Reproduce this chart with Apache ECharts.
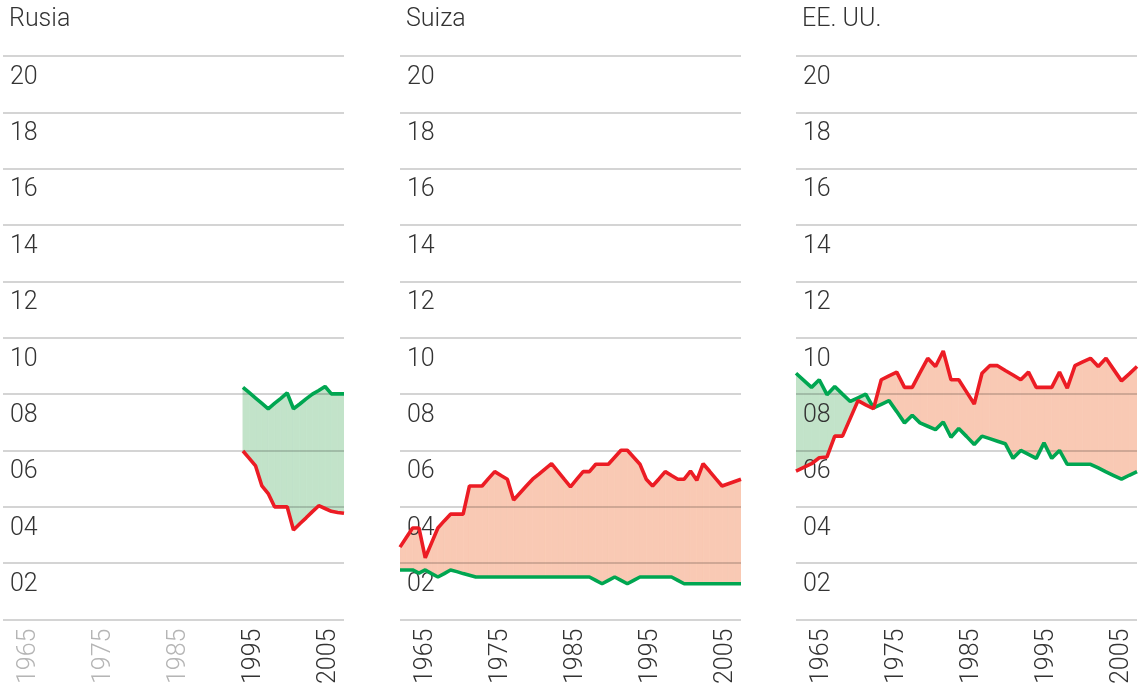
<!DOCTYPE html>
<html><head><meta charset="utf-8">
<script src="https://cdn.jsdelivr.net/npm/echarts@6/dist/echarts.min.js"></script>
<style>html,body{margin:0;padding:0;background:#fff}#c{width:1145px;height:687px}</style>
</head><body><div id="c"></div>
<script>
// ---------- data ----------
const panelTitles = ['Rusia', 'Suiza', 'EE. UU.'];
const yearTicks = [1965, 1975, 1985, 1995, 2005];
const yearMin = 1961.6, yearMax = 2007.07;

// sample positions used by the Russia / Switzerland series (55 evenly spaced samples)
const samples = ['1','2','3','4','5','6','7','8','9','10','11','12','13','14','15','16','17','18','19','20',
  '21','22','23','24','25','26','27','28','29','30','31','32','33','34','35','36','37','38','39','40',
  '41','42','43','44','45','46','47','48','49','50','51','52','53','54','55'];
// sample positions used by the US series (45 evenly spaced samples)
const usSamples = ['1','2','3','4','5','6','7','8','9','10','11','12','13','14','15','16','17','18','19','20',
  '21','22','23','24','25','26','27','28','29','30','31','32','33','34','35','36','37','38','39','40',
  '41','42','43','44','45'];

const ruGreenTail = [8.24, 8.05, 7.86, 7.67, 7.48, 7.67, 7.85, 8.04, 7.48, 7.65, 7.83, 8.00, 8.13, 8.27, 8.01, 8.01, 8.01];
const ruRedTail   = [5.98, 5.72, 5.45, 4.74, 4.47, 4.00, 4.00, 4.00, 3.18, 3.40, 3.61, 3.83, 4.04, 3.94, 3.84, 3.80, 3.77];
const ruLead = Array(38).fill(null);
const ruGreen = ruLead.concat(ruGreenTail);
const ruRed = ruLead.concat(ruRedTail);

const chRed = [2.57, 2.91, 3.25, 3.25, 2.19, 2.72, 3.25, 3.50, 3.74, 3.74, 3.74, 4.74, 4.74, 4.74, 5.00, 5.25, 5.11, 4.98, 4.24, 4.49,
  4.74, 4.98, 5.16, 5.35, 5.53, 5.26, 4.98, 4.71, 4.98, 5.25, 5.25, 5.51, 5.51, 5.51, 5.76, 6.01, 6.01, 5.76, 5.51, 4.98,
  4.74, 4.99, 5.25, 5.11, 4.98, 4.98, 5.27, 4.94, 5.53, 5.27, 5.00, 4.74, 4.82, 4.90, 4.98];
const chGreen = [1.76, 1.76, 1.76, 1.65, 1.76, 1.63, 1.51, 1.63, 1.76, 1.70, 1.63, 1.57, 1.51, 1.51, 1.51, 1.51, 1.51, 1.51, 1.51, 1.51,
  1.51, 1.51, 1.51, 1.51, 1.51, 1.51, 1.51, 1.51, 1.51, 1.51, 1.51, 1.39, 1.27, 1.39, 1.51, 1.39, 1.27, 1.39, 1.51, 1.51,
  1.51, 1.51, 1.51, 1.51, 1.39, 1.27, 1.27, 1.27, 1.27, 1.27, 1.27, 1.27, 1.27, 1.27, 1.27];

const usRed = [5.27, 5.40, 5.53, 5.74, 5.77, 6.51, 6.51, 7.14, 7.77, 7.62, 7.48, 8.51, 8.65, 8.78, 8.24, 8.24, 8.76, 9.27, 8.98, 9.53,
  8.51, 8.51, 8.08, 7.65, 8.74, 9.01, 9.01, 8.84, 8.68, 8.51, 8.78, 8.24, 8.24, 8.24, 8.78, 8.21, 9.01, 9.14, 9.27, 8.98,
  9.27, 8.87, 8.47, 8.72, 8.98];
const usGreen = [8.74, 8.49, 8.24, 8.51, 7.98, 8.27, 8.00, 7.74, 7.87, 8.00, 7.51, 7.64, 7.77, 7.38, 6.98, 7.25, 6.98, 6.86, 6.74, 7.01,
  6.47, 6.78, 6.50, 6.21, 6.51, 6.42, 6.33, 6.24, 5.72, 6.00, 5.86, 5.72, 6.27, 5.72, 6.00, 5.51, 5.51, 5.51, 5.51, 5.38,
  5.24, 5.11, 4.98, 5.12, 5.25];

// ---------- style ----------
const FONT = 'Roboto';
const TXT = '#333333';
const GREY_TXT = '#b5b5b5';
const RED = '#ec1c24';
const GREEN = '#00a651';
const RED_FILL = '#f9c9b4';
const GREEN_FILL = '#c2e3c9';
const GRID_LINE = 'rgba(0,0,0,0.17)';

const panels = [
  {title: panelTitles[0], cats: samples, red: ruRed, green: ruGreen, left: 3, dimYears: [1965, 1975, 1985]},
  {title: panelTitles[1], cats: samples, red: chRed, green: chGreen, left: 400, dimYears: []},
  {title: panelTitles[2], cats: usSamples, red: usRed, green: usGreen, left: 796, dimYears: []}
];
const panelW = 341, gridTop = 56, gridBottom = 64;

const option = {
  backgroundColor: '#fff',
  animation: false,
  title: [], grid: [], xAxis: [], yAxis: [], series: []
};

panels.forEach((p, gi) => {
  option.title.push({
    text: p.title, left: p.left + 6, top: 7, padding: 0,
    textStyle: {fontFamily: FONT, fontWeight: 300, fontSize: 25, color: TXT}
  });
  option.grid.push({left: p.left, top: gridTop, width: panelW, bottom: gridBottom, containLabel: false});
  // data axis (hidden)
  option.xAxis.push({
    type: 'category', gridIndex: gi, data: p.cats, boundaryGap: false, show: false
  });
  // year label axis
  option.xAxis.push({
    type: 'value', gridIndex: gi, min: yearMin, max: yearMax, position: 'bottom',
    axisLine: {show: false}, axisTick: {show: false}, splitLine: {show: false},
    axisLabel: {
      customValues: yearTicks, rotate: 90, margin: 9,
      fontFamily: FONT, fontWeight: 300, fontSize: 25,
      formatter: v => String(v),
      color: v => (p.dimYears.indexOf(Number(v)) >= 0 ? GREY_TXT : TXT)
    }
  });
  option.yAxis.push({
    type: 'value', gridIndex: gi, min: 0, max: 20, interval: 2, z: 1,
    axisLine: {show: false}, axisTick: {show: false},
    splitLine: {show: true, lineStyle: {color: GRID_LINE, width: 2}},
    axisLabel: {
      inside: true, margin: 7, align: 'left', verticalAlign: 'top', padding: [9, 0, 0, 0],
      fontFamily: FONT, fontWeight: 300, fontSize: 25, color: TXT,
      formatter: v => (v === 0 ? '' : (v < 10 ? '0' + v : String(v)))
    }
  });
  const g = p.green, r = p.red;
  option.series.push({
    type: 'custom', xAxisIndex: gi * 2, yAxisIndex: gi, z: 0, silent: true, clip: true,
    data: g.map((v, i) => [i, v]),
    encode: {x: 0, y: 1},
    renderItem: (params, api) => {
      const i = params.dataIndex;
      if (i >= g.length - 1) return null;
      const g0 = g[i], g1 = g[i + 1], r0 = r[i], r1 = r[i + 1];
      if (g0 == null || g1 == null || r0 == null || r1 == null) return null;
      const A = api.coord([i, g0]), B = api.coord([i + 1, g1]);
      const C = api.coord([i + 1, r1]), D = api.coord([i, r0]);
      const d0 = g0 - r0, d1 = g1 - r1;
      const col = d => (d >= 0 ? GREEN_FILL : RED_FILL);
      const poly = (pts, c) => ({type: 'polygon', shape: {points: pts}, style: {fill: c, stroke: c, lineWidth: 0.8}});
      if (d0 * d1 >= 0) {
        return poly([A, B, C, D], col(d0 !== 0 ? d0 : d1));
      }
      const t = d0 / (d0 - d1);
      const X = [A[0] + (B[0] - A[0]) * t, A[1] + (B[1] - A[1]) * t];
      return {type: 'group', children: [poly([A, X, D], col(d0)), poly([X, B, C], col(d1))]};
    }
  });
  option.series.push({
    type: 'line', xAxisIndex: gi * 2, yAxisIndex: gi, data: g, z: 3,
    symbol: 'none', lineStyle: {color: GREEN, width: 3.6}, connectNulls: false
  });
  option.series.push({
    type: 'line', xAxisIndex: gi * 2, yAxisIndex: gi, data: r, z: 3,
    symbol: 'none', lineStyle: {color: RED, width: 3.6}, connectNulls: false
  });
});

const chart = echarts.init(document.getElementById('c'), null, {renderer: 'canvas'});
chart.setOption(option);
</script>
</body></html>
